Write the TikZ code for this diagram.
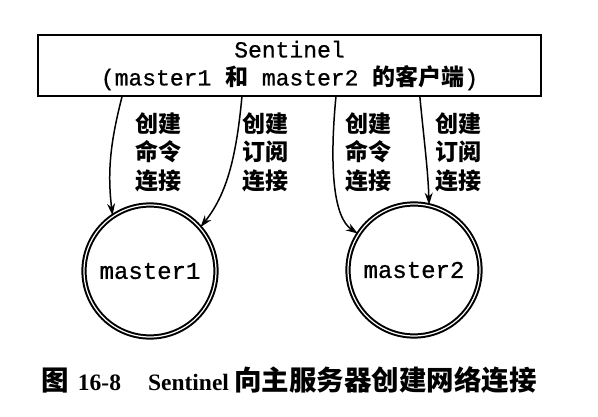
\documentclass[tikz,border=0pt]{standalone}
\usepackage{fontspec}
\setmainfont{Liberation Serif}
\setmonofont{Liberation Mono}[FakeBold=0.8]
\newfontfamily\cjk{Noto Sans CJK SC}
\usetikzlibrary{arrows.meta,calc}
\tikzset{
  sentbox/.style={draw, line width=2.2pt, minimum width=503pt, minimum height=61pt, inner sep=0pt, align=center, font=\fontsize{23}{28}\selectfont\ttfamily},
  master/.style={circle, draw, line width=2pt, double=white, double distance=1.2pt, minimum size=132pt, inner sep=0pt, font=\fontsize{24}{28}\selectfont\ttfamily},
  lbl/.style={align=center, inner sep=0pt, font=\fontsize{23}{28.5}\selectfont\cjk\bfseries},
  conn/.style={line width=1.5pt, -{Stealth[length=12pt, width=8pt]}},
  caption/.style={inner sep=0pt, font=\fontsize{23.5}{28}\selectfont\bfseries},
}
\begin{document}
\begin{tikzpicture}[x=1pt, y=-1pt]
\useasboundingbox (0,0) rectangle (598,417);
\node[sentbox] (sent) at (289.5,65.5) {Sentinel\\(master1 {\cjk\bfseries 和} master2 {\cjk\bfseries 的客户端})};
\node[master] (m1) at (150,271) {master1};
\node[master] (m2) at (414,270) {master2};
\coordinate (s1) at ($(sent.south west)+(85,0)$);
\coordinate (s2) at ($(sent.south west)+(205,0)$);
\coordinate (s3) at ($(sent.south west)+(299,0)$);
\coordinate (s4) at ($(sent.south west)+(383,0)$);
\draw[conn] (s1) .. controls (111,140) and (107,170) .. (m1.124);
\draw[conn] (s2) .. controls (236,160) and (226,195) .. (m1.41);
\draw[conn] (s3) .. controls (329,170) and (334,218) .. (m2.147);
\draw[conn] (s4) .. controls (424,140) and (428,170) .. (m2.77);
\node[lbl] (l1) at (158,152) {创建\\命令\\连接};
\node[lbl] (l2) at (265,152) {创建\\订阅\\连接};
\node[lbl] (l3) at (368,152) {创建\\命令\\连接};
\node[lbl] (l4) at (458,152) {创建\\订阅\\连接};
\node[caption] (cap) at (289,380) {{\cjk\fontsize{27.5}{28}\selectfont 图}\hspace{9pt}16-8\hspace{27pt}Sentinel\hspace{5pt}{\cjk\fontsize{27.5}{28}\selectfont 向主服务器创建网络连接}};
\end{tikzpicture}
\end{document}
